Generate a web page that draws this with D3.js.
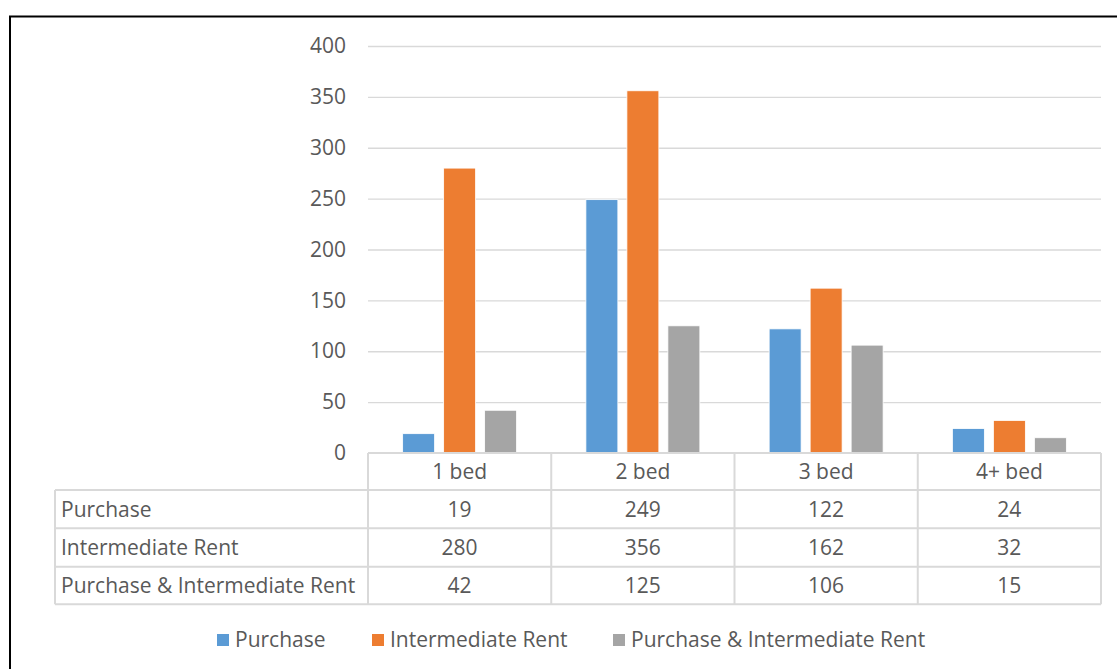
<!DOCTYPE html>
<html>
<head>
<meta charset="utf-8">
<script src="https://cdn.jsdelivr.net/npm/d3@7"></script>
<style>
  html, body { margin: 0; padding: 0; background: #fff; }
  svg { display: block; }
  text { font-family: "Open Sans", Lato, sans-serif; fill: #595959; }
</style>
</head>
<body>
<svg id="chart" width="1117" height="669"></svg>
<script>
const categories = ["1 bed", "2 bed", "3 bed", "4+ bed"];
const seriesNames = ["Purchase", "Intermediate Rent", "Purchase & Intermediate Rent"];
const purchase = [19, 249, 122, 24];
const intermediateRent = [280, 356, 162, 32];
const purchaseAndRent = [42, 125, 106, 15];
const yTicks = [0, 50, 100, 150, 200, 250, 300, 350, 400];
const colors = ["#5b9bd5", "#ed7d31", "#a5a5a5"];

const seriesValues = [purchase, intermediateRent, purchaseAndRent];

const svg = d3.select("#chart");
const fontSize = 21;
const fontFamily = "'Open Sans', Lato, sans-serif";

// outer frame
svg.append("rect").attr("x", 10).attr("y", 16.5).attr("width", 1120).attr("height", 700)
  .attr("fill", "none").attr("stroke", "#000").attr("stroke-width", 2);

const plotLeft = 368, plotRight = 1101, plotTop = 46, plotBottom = 453;
const x = d3.scaleBand().domain(categories).range([plotLeft, plotRight]).paddingInner(0).paddingOuter(0);
const y = d3.scaleLinear().domain([0, 400]).range([plotBottom, plotTop]);

// gridlines
svg.append("g").selectAll("line").data(yTicks.filter(t => t > 0)).join("line")
  .attr("x1", plotLeft).attr("x2", plotRight)
  .attr("y1", d => y(d) + 0.5).attr("y2", d => y(d) + 0.5)
  .attr("stroke", "#d9d9d9").attr("stroke-width", 1.3);

// y axis labels
const yAxis = d3.axisLeft(y).tickValues(yTicks).tickSize(0).tickPadding(22);
const yg = svg.append("g").attr("transform", `translate(${plotLeft},0)`).call(yAxis);
yg.select(".domain").remove();
yg.selectAll("text").style("font-size", fontSize + "px").attr("fill", "#595959")
  .style("font-family", fontFamily);

// bars
const inner = d3.scaleBand().domain(seriesNames).range([0, x.bandwidth()]).paddingInner(0.22).paddingOuter(0.845);
seriesNames.forEach((s, si) => {
  svg.append("g").selectAll("rect").data(categories).join("rect")
    .attr("x", c => x(c) + inner(s))
    .attr("width", inner.bandwidth())
    .attr("y", (c, i) => y(seriesValues[si][i]))
    .attr("height", (c, i) => y(0) - y(seriesValues[si][i]))
    .attr("fill", colors[si])
    .attr("stroke", "#fff").attr("stroke-width", 0.8);
});

// data table
const tableLeft = 55;
const rowY = [453, 490, 528.3, 566.7, 604.3];
const gridColor = "#d9d9d9";
const tg = svg.append("g");
tg.append("line").attr("x1", plotLeft).attr("x2", plotRight).attr("y1", rowY[0]).attr("y2", rowY[0])
  .attr("stroke", gridColor).attr("stroke-width", 2);
rowY.slice(1).forEach(ry => {
  tg.append("line").attr("x1", tableLeft).attr("x2", plotRight).attr("y1", ry).attr("y2", ry)
    .attr("stroke", gridColor).attr("stroke-width", 2);
});
const vx = categories.map(c => x(c)).concat([x(categories[categories.length - 1]) + x.bandwidth()]);
vx.forEach(xx => {
  tg.append("line").attr("x1", xx).attr("x2", xx).attr("y1", rowY[0]).attr("y2", rowY[4])
    .attr("stroke", gridColor).attr("stroke-width", 2);
});
tg.append("line").attr("x1", tableLeft).attr("x2", tableLeft).attr("y1", rowY[1]).attr("y2", rowY[4])
  .attr("stroke", gridColor).attr("stroke-width", 2);

tg.selectAll("text.hdr").data(categories).join("text").attr("class", "hdr")
  .attr("x", c => x(c) + x.bandwidth() / 2).attr("y", (rowY[0] + rowY[1]) / 2)
  .attr("dy", "0.35em").attr("text-anchor", "middle").style("font-size", fontSize + "px").text(c => c);

seriesNames.forEach((s, si) => {
  const cy = (rowY[si + 1] + rowY[si + 2]) / 2;
  tg.append("text").attr("x", 61).attr("y", cy).attr("dy", "0.35em")
    .style("font-size", fontSize + "px").text(s);
  tg.selectAll("text.v" + si).data(categories).join("text").attr("class", "v" + si)
    .attr("x", c => x(c) + x.bandwidth() / 2).attr("y", cy).attr("dy", "0.35em")
    .attr("text-anchor", "middle").style("font-size", fontSize + "px")
    .text((c, i) => seriesValues[si][i]);
});

// legend
const legendY = 640;
const lg = svg.append("g");
const legendX = [217, 372, 613];
seriesNames.forEach((s, si) => {
  lg.append("rect").attr("x", legendX[si]).attr("y", legendY - 6).attr("width", 12).attr("height", 12)
    .attr("fill", colors[si]);
  lg.append("text").attr("x", legendX[si] + 18).attr("y", legendY).attr("dy", "0.35em")
    .style("font-size", fontSize + "px").text(s);
});
</script>
</body>
</html>
